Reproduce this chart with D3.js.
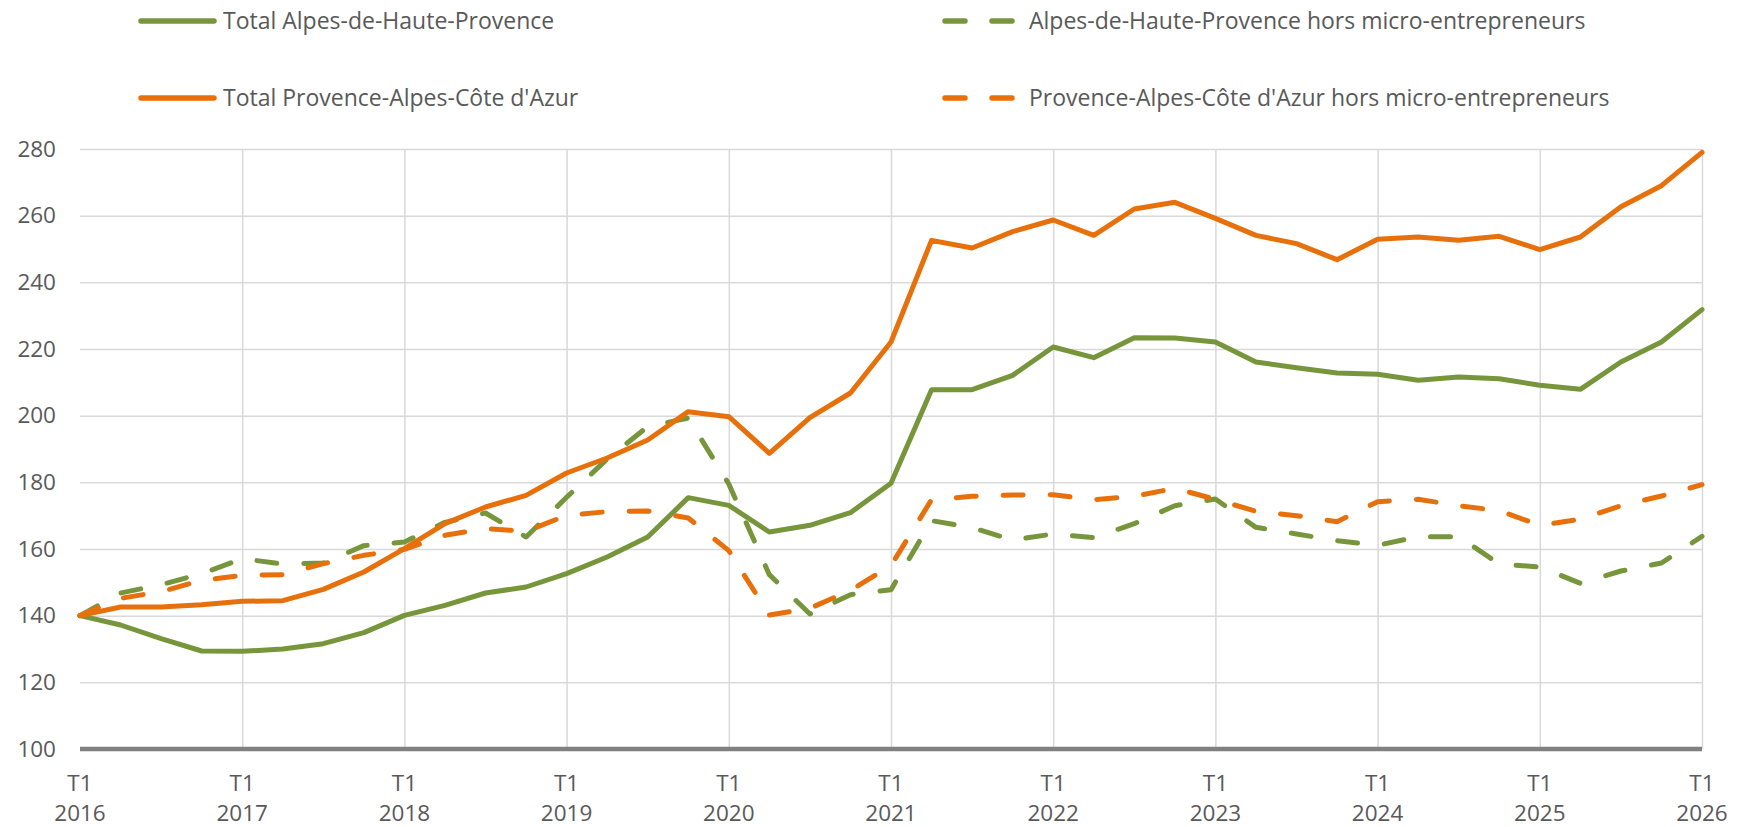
<!DOCTYPE html>
<meta charset="utf-8">
<body style="margin:0;background:#fff">
<svg width="1742" height="827"></svg>
<script src="https://d3js.org/d3.v7.min.js"></script>
<script>
// years shown on the x axis (one tick per T1)
const years = [2016, 2017, 2018, 2019, 2020, 2021, 2022, 2023, 2024, 2025, 2026];
const yTicks = [100, 120, 140, 160, 180, 200, 220, 240, 260, 280];

// quarters T1 2016 .. T1 2026
const quarters = [];
years.forEach(function(y, i) {
  const n = i == years.length - 1 ? 1 : 4;
  for (let q = 1; q <= n; q++) quarters.push("T" + q + " " + y);
});

const totalAHP = [140, 137.2, 133.1, 129.4, 129.3, 130.0, 131.6, 134.9, 140.1, 143.1, 146.8, 148.6,
  152.6, 157.6, 163.6, 175.4, 173.1, 165.1, 167.1, 170.9, 179.7, 207.8, 207.8, 212.1,
  220.6, 217.4, 223.4, 223.3, 222.1, 216.1, 214.4, 212.8, 212.4, 210.6, 211.6, 211.1,
  209.1, 207.9, 216.1, 222.1, 231.8];
const horsAHP = [140, 146.8, 149.3, 152.6, 157.1, 155.5, 155.8, 161.0, 162.1, 168.0, 170.8, 163.6,
  175.5, 187.0, 196.7, 199.3, 179.5, 152.3, 140.5, 146.3, 147.8, 168.5, 166.4, 162.7,
  164.5, 163.4, 167.6, 173.0, 175.0, 166.5, 164.5, 162.5, 161.1, 163.7, 163.7, 155.5,
  154.6, 149.7, 153.4, 155.8, 163.8];
const totalPACA = [140, 142.6, 142.6, 143.3, 144.3, 144.5, 147.9, 153.1, 160.1, 167.6, 172.6, 176.1,
  182.8, 187.3, 192.7, 201.2, 199.7, 188.7, 199.4, 206.8, 222.1, 252.6, 250.3, 255.2,
  258.7, 254.1, 262.0, 264.0, 259.2, 254.1, 251.6, 246.8, 252.9, 253.6, 252.6, 253.8,
  249.8, 253.6, 262.7, 269.0, 279.0];
const horsPACA = [140, 145.2, 147.2, 150.6, 152.1, 152.3, 155.6, 158.1, 159.9, 164.1, 166.1, 165.3,
  170.1, 171.2, 171.4, 169.3, 159.5, 140.2, 142.2, 147.6, 155.0, 174.8, 175.8, 176.2,
  176.3, 174.8, 175.8, 178.2, 174.9, 171.3, 170.0, 168.2, 174.2, 174.9, 173.0, 171.5,
  167.1, 168.9, 173.0, 175.9, 179.3];

const seriesNames = ["Total Alpes-de-Haute-Provence", "Alpes-de-Haute-Provence hors micro-entrepreneurs",
  "Total Provence-Alpes-Côte d'Azur", "Provence-Alpes-Côte d'Azur hors micro-entrepreneurs"];

const green = "#77963b", orange = "#e8700b";
const series = [
  {name: seriesNames[0], values: totalAHP, color: green, dash: null},
  {name: seriesNames[1], values: horsAHP, color: green, dash: "20,27"},
  {name: seriesNames[2], values: totalPACA, color: orange, dash: null},
  {name: seriesNames[3], values: horsPACA, color: orange, dash: "20,27"}
];

const svg = d3.select("svg");
const font = "'Open Sans', sans-serif";

const x = d3.scaleLinear().domain([0, quarters.length - 1]).range([80, 1702]);
const y = d3.scaleLinear().domain([100, 280]).range([749, 149]);

// horizontal grid
svg.append("g")
  .attr("transform", "translate(80,0)")
  .call(d3.axisLeft(y).tickValues(yTicks.slice(1)).tickSize(-(1702 - 80)).tickFormat(""))
  .call(g => g.select(".domain").remove())
  .call(g => g.selectAll("line").attr("stroke", "#d9d9d9").attr("stroke-width", 1.5));

// vertical grid at each T1 (except the first)
const t1Index = years.map((yr, i) => i * 4);
svg.append("g")
  .attr("transform", "translate(0,749)")
  .call(d3.axisBottom(x).tickValues(t1Index.slice(1)).tickSize(-(749 - 149)).tickFormat(""))
  .call(g => g.select(".domain").remove())
  .call(g => g.selectAll("line").attr("stroke", "#d9d9d9").attr("stroke-width", 1.5));

// y labels
svg.append("g")
  .attr("transform", "translate(56,0)")
  .call(d3.axisLeft(y).tickValues(yTicks).tickSize(0).tickPadding(0))
  .call(g => g.select(".domain").remove())
  .call(g => g.selectAll("text")
    .attr("fill", "#595959").attr("font-family", font).attr("font-size", 22.5));

// base line at 100
svg.append("line")
  .attr("x1", x(0)).attr("x2", x(quarters.length - 1))
  .attr("y1", y(100)).attr("y2", y(100))
  .attr("stroke", "#808080").attr("stroke-width", 4.5);

// x labels, two lines
const xl = svg.append("g");
t1Index.forEach(function(idx, i) {
  const t = xl.append("text")
    .attr("x", x(idx)).attr("text-anchor", "middle")
    .attr("fill", "#595959").attr("font-family", font).attr("font-size", 22.5);
  t.append("tspan").attr("x", x(idx)).attr("y", 791).text(quarters[idx].split(" ")[0]);
  t.append("tspan").attr("x", x(idx)).attr("y", 821).text(years[i]);
});

// lines
const line = d3.line().x((d, i) => x(i)).y(d => y(d));
series.forEach(function(s) {
  svg.append("path")
    .datum(s.values)
    .attr("d", line)
    .attr("fill", "none")
    .attr("stroke", s.color)
    .attr("stroke-width", 5)
    .attr("stroke-linejoin", "round")
    .attr("stroke-linecap", "round")
    .attr("stroke-dasharray", s.dash);
});

// legend: 2 columns, Excel order
const legPos = [[141, 21], [945, 21], [141, 98], [945, 98]];
series.forEach(function(s, i) {
  const p = legPos[i];
  const w = s.dash ? 68 : 73;
  svg.append("line")
    .attr("x1", p[0]).attr("x2", p[0] + w)
    .attr("y1", p[1]).attr("y2", p[1])
    .attr("stroke", s.color).attr("stroke-width", 5.5)
    .attr("stroke-linecap", "round")
    .attr("stroke-dasharray", s.dash);
  svg.append("text")
    .attr("x", s.dash ? 1029 : 223).attr("y", p[1])
    .attr("dy", "0.35em")
    .attr("fill", "#595959").attr("font-family", font).attr("font-size", 23)
    .text(s.name);
});
</script>
</body>
